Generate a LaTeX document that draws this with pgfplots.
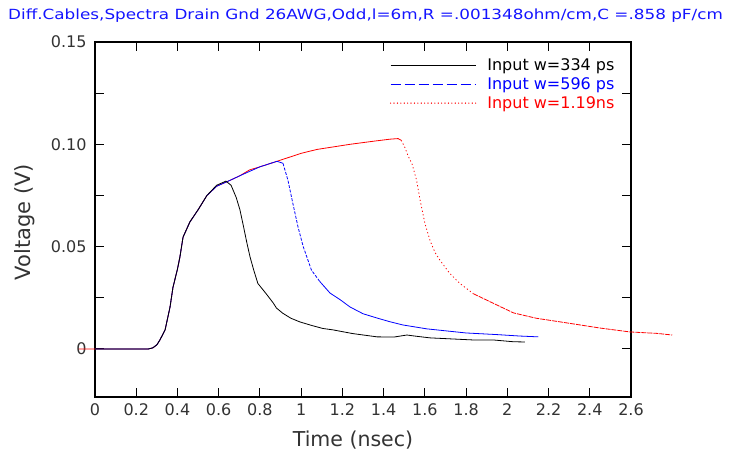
\documentclass[border=0pt]{standalone}
\usepackage{pgfplots}
\pgfplotsset{compat=1.18}
\usepackage{fontspec}
\setmainfont{DejaVu Sans}
\definecolor{ttlblue}{RGB}{20,20,255}
\definecolor{cRed}{RGB}{255,0,0}
\definecolor{cBlue}{RGB}{0,0,255}

\begin{document}
\begin{tikzpicture}[x=1pt,y=1pt]
\useasboundingbox (0,0) rectangle (730,-458);
\node[anchor=west, text=ttlblue, font=\fontsize{14}{15}\selectfont, inner sep=0pt] at (8,-16)
  {\scalebox{1.2}[1]{Diff.Cables,Spectra Drain Gnd 26AWG,Odd,l=6m,R =.001348ohm/cm,C =.858 pF/cm}};
\begin{axis}[
  at={(95pt,-397pt)}, anchor=south west,
  scale only axis, width=536pt, height=355pt,
  xmin=0, xmax=2.6, ymin=-0.0235, ymax=0.15,
  clip=false,
  axis line style={line width=1.3pt},
  tick style={black, line width=1pt},
  tick align=inside, major tick length=9pt, minor tick length=9pt,
  xtick={0,0.2,...,2.6},
  xticklabels={0,0.2,0.4,0.6,0.8,1,1.2,1.4,1.6,1.8,2,2.2,2.4,2.6},
  ytick={0,0.05,0.1,0.15},
  yticklabels={0,0.05,0.10,0.15},
  minor ytick={0.025,0.075,0.125},
  /pgf/number format/assume math mode=true,
  tick label style={font=\fontsize{16}{17}\selectfont, text=black!80},
  xticklabel style={yshift=-3pt},
  yticklabel style={xshift=-5pt},
  legend style={draw=none, fill=none, at={(rel axis cs:0.548,0.962)}, anchor=north west,
    font=\fontsize{16}{17}\selectfont, row sep=1.5pt, inner sep=1pt,
    /tikz/every odd column/.append style={column sep=9pt}},
  legend cell align=left,
  every axis plot/.append style={line width=0.8pt},
]
\addlegendimage{legend image code/.code={\draw[black, line width=0.8pt] (0pt,0pt) -- (85pt,0pt);}}
\addlegendentry{Input w=334 ps}
\addlegendimage{legend image code/.code={\draw[cBlue, line width=0.9pt, dash pattern=on 10pt off 4pt] (0pt,0pt) -- (85pt,0pt);}}
\addlegendentry{\textcolor{cBlue}{Input w=596 ps}}
\addlegendimage{legend image code/.code={\draw[cRed, line width=1.4pt, line cap=round, dash pattern=on 0pt off 3.4pt] (0pt,0pt) -- (85pt,0pt);}}
\addlegendentry{\textcolor{cRed}{Input w=1.19ns}}

% Input w=1.19ns
\addplot[cRed, forget plot] coordinates {
(-0.08,0) (0,0) (0.2,0) (0.26,0) (0.28,0.0005) (0.30,0.002) (0.315,0.0044) (0.34,0.0093)
(0.364,0.0205) (0.378,0.030) (0.40,0.039) (0.412,0.045) (0.427,0.0546) (0.46,0.062)
(0.50,0.068) (0.543,0.075) (0.59,0.0795) (0.635,0.0815) (0.655,0.0824) (0.70,0.0845)
(0.75,0.0875) (0.80,0.089) (0.883,0.0917) (1.0,0.0956) (1.077,0.0975) (1.237,0.1)
(1.35,0.1015) (1.43,0.1025) (1.47,0.1028) (1.485,0.102)};
\addplot[cRed, forget plot, dash pattern=on 1.2pt off 2.5pt] coordinates {
(1.485,0.102) (1.503,0.0985) (1.52,0.094)
(1.537,0.0907) (1.56,0.0824) (1.577,0.0727) (1.6,0.0615) (1.625,0.053) (1.65,0.047)
(1.673,0.0434) (1.72,0.037) (1.77,0.032) (1.835,0.027)};
\addplot[cRed, forget plot, dash pattern=on 5pt off 1pt] coordinates {
(1.835,0.027) (1.93,0.0224) (2.03,0.0176)
(2.14,0.015) (2.29,0.0127) (2.45,0.0102) (2.595,0.0083) (2.725,0.0076) (2.80,0.0068)};

% Input w=596 ps
\addplot[cBlue, forget plot] coordinates {
(0,0) (0.2,0) (0.26,0) (0.28,0.0005) (0.30,0.002) (0.315,0.0044) (0.34,0.0093)
(0.364,0.0205) (0.378,0.030) (0.40,0.039) (0.412,0.045) (0.427,0.0546) (0.46,0.062)
(0.50,0.068) (0.543,0.075) (0.59,0.0795) (0.635,0.0815) (0.655,0.0824) (0.70,0.0845)
(0.737,0.0862) (0.80,0.089) (0.883,0.0917) (0.912,0.0907)};
\addplot[cBlue, forget plot, dash pattern=on 3pt off 1.5pt] coordinates {
(0.912,0.0907) (0.936,0.0824) (0.96,0.071)
(0.985,0.0595) (1.01,0.050) (1.05,0.0385) (1.09,0.033)};
\addplot[cBlue, forget plot] coordinates {
(1.09,0.033) (1.14,0.0273) (1.19,0.024)
(1.237,0.0205) (1.30,0.0172) (1.368,0.0151) (1.43,0.0133) (1.494,0.0117) (1.61,0.0098)
(1.80,0.0078) (1.95,0.0070) (2.06,0.0063) (2.15,0.0059)};

% Input w=334 ps
\addplot[black, forget plot] coordinates {
(0,0) (0.2,0) (0.26,0) (0.28,0.0005) (0.30,0.002) (0.315,0.0044) (0.34,0.0093)
(0.364,0.0205) (0.378,0.030) (0.40,0.039) (0.412,0.045) (0.427,0.0546) (0.46,0.062)
(0.50,0.068) (0.543,0.075) (0.59,0.080) (0.635,0.082) (0.66,0.080) (0.685,0.074)
(0.703,0.068) (0.72,0.060) (0.737,0.0517) (0.752,0.045) (0.77,0.0385) (0.79,0.032)
(0.83,0.027) (0.865,0.0224) (0.88,0.020) (0.91,0.0175) (0.95,0.015) (0.994,0.0132)
(1.05,0.0115) (1.105,0.010) (1.155,0.0093) (1.25,0.0075) (1.368,0.0059) (1.45,0.0058)
(1.513,0.0068) (1.55,0.0063) (1.625,0.0054) (1.83,0.0044) (1.93,0.0044) (2.03,0.0035)
(2.085,0.0034)};
\end{axis}
\node[font=\fontsize{20.5}{22}\selectfont, text=black!80] at (353,-440) {Time (nsec)};
\node[rotate=90, font=\fontsize{21}{23}\selectfont, text=black!80] at (25,-222) {Voltage (V)};
\end{tikzpicture}
\end{document}
